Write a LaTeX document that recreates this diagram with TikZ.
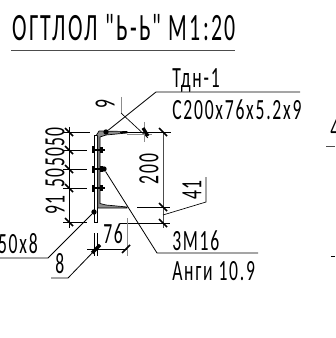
\documentclass[tikz,border=0pt]{standalone}
\usepackage{fontspec}
\setmainfont[FakeStretch=0.6,LetterSpace=6]{Carlito}
\newfontfamily\titlefont[FakeStretch=0.565,LetterSpace=6]{Carlito}
\usetikzlibrary{positioning}
\tikzset{
  dim/.style={line width=0.5pt}, % thin dimension lines
  ext/.style={line width=0.7pt, black!45}, % grey extension lines
  tick/.style={line width=1.1pt}, % dimension ticks
  bigtick/.style={line width=2.4pt},
  lbl/.style={anchor=base west, inner sep=0pt, font=\fontsize{22}{22}\selectfont},
  dimv/.style={rotate=90, inner sep=0pt, font=\fontsize{22}{22}\selectfont},
  dot/.style={circle, fill=black, inner sep=0pt, minimum size=4pt},
  steel/.style={fill=black!45, draw=black, line width=0.5pt},
}
\begin{document}
\begin{tikzpicture}[x=0.75pt, y=-0.75pt]
  \useasboundingbox (0,0) rectangle (335,338);
  % title
  \node[lbl, font=\titlefont\fontsize{29}{29}\selectfont] (title) at (12,41) {ОГТЛОЛ "Ь-Ь" М1:20};
  \draw[line width=0.6pt, black!70] (11,50) -- (235,50);

  % plate and channel
  \draw[line width=0.6pt] (94.3,135) -- (94.3,222) -- (97.7,222) -- (97.7,135) -- cycle;
  \draw[steel] (96.5,135) -- (99,131) -- (127,131.5) -- (127,133) -- (106,135) -- (100,137)
    -- (100,203.5) -- (106,205) -- (127,207) -- (127,208) -- (97.7,208) -- (97.7,136) -- cycle;

  % bolts
  \foreach \y/\name in {150/a, 169/b, 188/c} {
    \fill (92,\y-3.5) rectangle (95,\y+3.5);
    \fill (100,\y-3) rectangle (103,\y+3);
    \draw[line width=1pt] (92,\y) -- (105,\y);
    \coordinate (bolt\name) at (104,\y);
  }
  \node[dot] (boltdot) at (boltb) {};

  % left dimension chain
  \coordinate (lefttop) at (69,127);
  \coordinate (leftend) at (69,228);
  \draw[dim] (lefttop) -- (leftend);
  \foreach \y/\xend in {132/90, 150/87, 169/87, 188/87, 222/87} {
    \draw[dim] (63,\y) -- (\xend,\y);
    \draw[tick] (65,\y-4) -- (73,\y+4);
  }
  \node[dimv] (d50a) at (55,137) {50};
  \node[dimv] (d50b) at (55,157) {50};
  \node[dimv] (d50c) at (55,178) {50};
  \node[dimv] (d91) at (55,205) {91};

  % top leader
  \node[dot] (topweld) at (106,132) {};
  \coordinate (topknee) at (156,92);
  \coordinate (topend) at (300,92);
  \draw[line width=0.6pt] (topweld) -- (topknee) -- (topend);
  \node[lbl] (mark) at (172,88) {Тдн-1};
  \node[lbl] (section) at (172,120) {С200x76x5.2x9};

  % dimension 9
  \coordinate (nineA) at (121,97);
  \coordinate (nineB) at (121,113);
  \coordinate (nineC) at (148,138);
  \draw[ext] (nineA) -- (nineB);
  \draw[dim] (nineB) -- (nineC);
  \node[dimv] (d9) at (105,104) {9};
  \draw[ext] (127,134.5) -- (152,134.5);
  \draw[ext] (144.5,122) -- (144.5,142);
  \draw[bigtick] (143,128) -- (148,136);

  % dimensions 200 and 41
  \draw[dim] (120,132) -- (171,132);
  \draw[dim] (137,207) -- (170,207);
  \draw[dim] (120,223) -- (170,223);
  \draw[ext, black!70] (163,132) -- (163,228);
  \foreach \y in {132, 207, 223} {
    \draw[tick] (159,\y-4) -- (167,\y+4);
  }
  \node[dimv] (d200) at (149,169) {200};
  \coordinate (fortyA) at (163,215);
  \coordinate (fortyB) at (206,202);
  \coordinate (fortyC) at (206,177);
  \draw[dim] (fortyA) -- (fortyB) -- (fortyC);
  \node[dimv] (d41) at (192,190) {41};

  % bolt leader
  \coordinate (boltknee) at (157,253);
  \coordinate (boltend) at (258,253);
  \draw[line width=0.6pt] (boltdot) -- (boltknee) -- (boltend);
  \node[lbl] (bolt) at (172,250) {3М16};
  \node[lbl] (grade) at (172,280) {Анги 10.9};

  % plate leader
  \node[dot] (plateweld) at (94,212) {};
  \coordinate (plateknee) at (48,258);
  \coordinate (plateend) at (0,258);
  \draw[line width=0.6pt] (plateweld) -- (plateknee) -- (plateend);
  \node[lbl, anchor=base east] (plate) at (38,253) {50x8};

  % dimensions 8 and 76
  \draw[dim] (94.3,233) -- (94.3,256);
  \draw[dim] (97.7,233) -- (97.7,256);
  \draw[ext] (127,218) -- (127,256);
  \draw[dim] (87,249) -- (127,249);
  \draw[bigtick] (92,253) -- (100,245);
  \draw[tick] (122,253) -- (130,245);
  \node[lbl] (d76) at (103,243) {76};
  \coordinate (eightA) at (96,249);
  \coordinate (eightB) at (68,278);
  \coordinate (eightC) at (51,278);
  \draw[line width=0.6pt] (eightA) -- (eightB) -- (eightC);
  \node[lbl] (d8) at (55,273) {8};

  % next view, cut at the edge
  \node[lbl] (nextview) at (330,139) {4};
  \coordinate (nextA) at (326,146);
  \coordinate (nextB) at (335,146);
  \draw[line width=0.6pt, black!70] (nextA) -- (nextB);
  \coordinate (nextC) at (331,256);
  \coordinate (nextD) at (335,256);
  \draw[dim] (nextC) -- (nextD);
\end{tikzpicture}
\end{document}
